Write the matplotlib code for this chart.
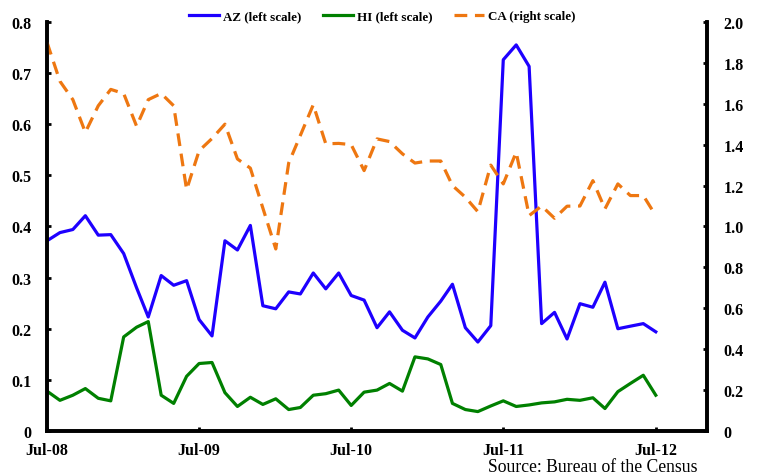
import pandas as pd
import matplotlib
matplotlib.use('Agg')
import matplotlib.pyplot as plt
import matplotlib.dates as mdates

# monthly values, Jul-08 .. Jul-12
months = pd.date_range('2008-07-01', periods=49, freq='MS')

az = [0.372, 0.388, 0.394, 0.421, 0.383, 0.384, 0.347, 0.280, 0.223, 0.304,
      0.285, 0.294, 0.218, 0.186, 0.372, 0.354, 0.402, 0.245, 0.239, 0.272,
      0.268, 0.309, 0.278, 0.309, 0.265, 0.256, 0.202, 0.233, 0.197, 0.182,
      0.223, 0.254, 0.287, 0.202, 0.174, 0.206, 0.726, 0.755, 0.713, 0.210,
      0.232, 0.180, 0.249, 0.242, 0.291, 0.200, 0.205, 0.210, 0.194]

hi = [0.078, 0.060, 0.070, 0.083, 0.064, 0.059, 0.184, 0.203, 0.214, 0.070,
      0.054, 0.107, 0.132, 0.134, 0.075, 0.048, 0.066, 0.052, 0.063, 0.042,
      0.046, 0.070, 0.073, 0.080, 0.050, 0.076, 0.080, 0.093, 0.078, 0.145,
      0.141, 0.130, 0.054, 0.042, 0.038, 0.049, 0.059, 0.048, 0.051, 0.055,
      0.057, 0.062, 0.060, 0.065, 0.044, 0.077, 0.093, 0.109, 0.070]

ca = [1.90, 1.71, 1.62, 1.46, 1.59, 1.67, 1.65, 1.49, 1.62, 1.65,
      1.59, 1.18, 1.37, 1.43, 1.50, 1.33, 1.285, 1.09, 0.89, 1.31,
      1.445, 1.595, 1.404, 1.406, 1.40, 1.273, 1.428, 1.415, 1.355, 1.31,
      1.32, 1.32, 1.20, 1.143, 1.072, 1.30, 1.208, 1.363, 1.053, 1.10,
      1.04, 1.099, 1.10, 1.224, 1.086, 1.208, 1.151, 1.151, 1.053]

plt.rcParams['font.family'] = 'Liberation Serif'
plt.rcParams['font.weight'] = 'bold'

fig = plt.figure(figsize=(7.57, 4.77), dpi=100)
ax = fig.add_axes([0.0621, 0.0943, 0.8719, 0.8577])
ax2 = ax.twinx()

l1, = ax.plot(months, az, color='#1E00FF', lw=2.3, label='AZ (left scale)')
l2, = ax.plot(months, hi, color='#008000', lw=2.3, label='HI (left scale)')
l3, = ax2.plot(months, ca, color='#EE7711', lw=2.3, dashes=(4, 2.4),
               label='CA (right scale)')

ax.set_xlim(pd.Timestamp('2008-07-01'), pd.Timestamp('2012-11-01'))
ax.set_ylim(0, 0.8)
ax2.set_ylim(0, 2.0)

ax.set_yticks([0, 0.1, 0.2, 0.3, 0.4, 0.5, 0.6, 0.7, 0.8])
ax.set_yticklabels(['0', '0.1', '0.2', '0.3', '0.4', '0.5', '0.6', '0.7', '0.8'])
ax2.set_yticks([0, 0.2, 0.4, 0.6, 0.8, 1.0, 1.2, 1.4, 1.6, 1.8, 2.0])
ax2.set_yticklabels(['0', '0.2', '0.4', '0.6', '0.8', '1.0', '1.2', '1.4',
                     '1.6', '1.8', '2.0'])
ax.set_xticks(pd.date_range('2008-07-01', periods=5, freq='12MS'))
ax.xaxis.set_major_formatter(mdates.DateFormatter('%b-%y'))

for a in (ax, ax2):
    a.spines['top'].set_visible(False)
    for s in ('left', 'right', 'bottom'):
        a.spines[s].set_linewidth(2.6)
    a.tick_params(direction='in', length=3, width=2, labelsize=11.5)
ax.tick_params(axis='y', pad=11)
ax2.tick_params(axis='y', pad=12)
ax.tick_params(axis='x', pad=8)

fig.legend(handles=[l1, l2, l3], loc='center', bbox_to_anchor=(0.505, 0.964),
           ncol=3, frameon=False, fontsize=9.4, handlelength=2.3,
           handletextpad=0.25, columnspacing=1.7)

fig.text(0.921, 0.01, 'Source: Bureau of the Census', ha='right',
         fontsize=12.7, fontweight='normal')

fig.savefig('out.png', dpi=100)
